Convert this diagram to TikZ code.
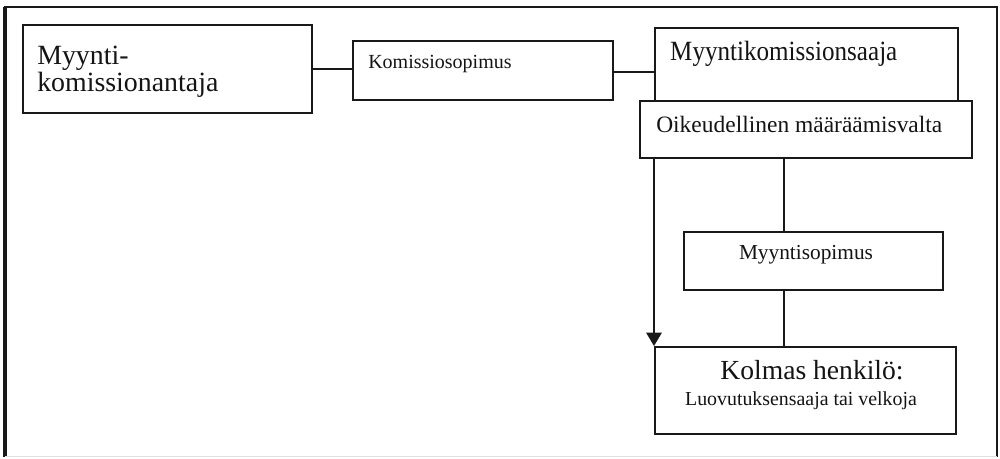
\documentclass[tikz,border=0pt]{standalone}
\usepackage{fontspec}
\setmainfont{Liberation Serif}
\usetikzlibrary{arrows.meta}
\begin{document}
\begin{tikzpicture}[x=0.75pt,y=-0.75pt,
  box/.style={draw=black!90,line width=1.5pt,fill=white,rectangle,inner sep=0pt,anchor=north west},
  conn/.style={draw=black!90,line width=1.5pt},
  txt/.style={inner sep=0pt,anchor=base west,text=black!92}]
\useasboundingbox (0,0) rectangle (1000,458);
% outer frame
\draw[black!90,line width=1.5pt] (5,457) -- (5,7) -- (997,7) -- (997,457);
\draw[black!90,line width=2.4pt] (5,457) -- (5,7);
\draw[black!12,line width=1pt] (5,456.5) -- (997,456.5);
% boxes
\node[box,minimum width=289*0.75pt,minimum height=88*0.75pt] (b1) at (22,24) {};
\node[box,minimum width=260*0.75pt,minimum height=59*0.75pt] (b2) at (352,40) {};
\node[box,minimum width=303*0.75pt,minimum height=75*0.75pt] (b3) at (654,27) {};
\node[box,minimum width=332*0.75pt,minimum height=57*0.75pt] (b4) at (639,100) {};
\node[box,minimum width=259*0.75pt,minimum height=58*0.75pt] (b5) at (683,231) {};
\node[box,minimum width=301*0.75pt,minimum height=87*0.75pt] (b6) at (654,346) {};
% texts
\node[txt,font=\fontsize{20.9}{21}\selectfont] (t1a) at (37,64) {Myynti-};
\node[txt,font=\fontsize{20.9}{21}\selectfont] (t1b) at (37,91) {komissionantaja};
\node[txt,font=\fontsize{15}{16}\selectfont] (t2) at (368,68) {Komissiosopimus};
\node[txt,font=\fontsize{20.9}{21}\selectfont,xscale=0.9,transform shape] (t3) at (670,60) {Myyntikomissionsaaja};
\node[txt,font=\fontsize{17.6}{18}\selectfont] (t4) at (656,132) {Oikeudellinen määräämisvalta};
\node[txt,font=\fontsize{16}{17}\selectfont,anchor=base] (t5) at (806,259) {Myyntisopimus};
\node[txt,font=\fontsize{20.7}{21}\selectfont,anchor=base] (t6a) at (812,379) {Kolmas henkilö:};
\node[txt,font=\fontsize{14.9}{15}\selectfont,anchor=base] (t6b) at (801,405) {Luovutuksensaaja tai velkoja};
% connectors
\draw[conn] (b1.east) -- (b1.east -| b2.west);
\draw[conn] ([yshift=-0.75pt]b2.east) -- ([yshift=-0.75pt]b2.east -| b3.west);
\coordinate (a0) at (b4.south -| b6.west);
\draw[conn,-{Triangle[width=11.5pt,length=10pt]}] (a0) -- (b6.north west);
\coordinate (v0) at (784,157);
\draw[conn] (v0) -- (v0 |- b5.north);
\draw[conn] (v0 |- b5.south) -- (v0 |- b6.north);
\end{tikzpicture}
\end{document}
